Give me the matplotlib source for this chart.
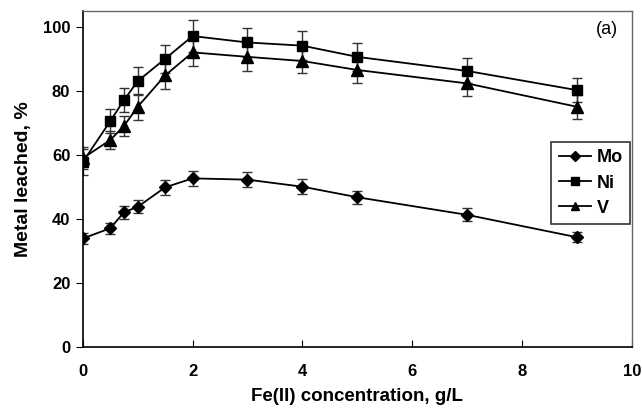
import matplotlib.pyplot as plt

plt.rcParams['font.family'] = ['Liberation Sans', 'DejaVu Sans']

fe = [0, 0.5, 0.75, 1, 1.5, 2, 3, 4, 5, 7, 9]

mo = [33.9, 37.1, 42.1, 43.8, 49.9, 52.7, 52.3, 50.1, 46.8, 41.3, 34.3]
mo_err = [1.8, 1.8, 2.0, 2.0, 2.3, 2.4, 2.4, 2.3, 2.1, 2.0, 1.6]

ni = [57.8, 70.6, 77.2, 83.1, 90.1, 97.2, 95.2, 94.2, 90.7, 86.3, 80.3]
ni_err = [4.0, 3.7, 3.9, 4.3, 4.3, 5.0, 4.6, 4.5, 4.4, 3.9, 3.7]

v = [59.0, 64.7, 69.1, 75.1, 84.9, 92.1, 90.7, 89.4, 86.6, 82.4, 75.1]
v_err = [3.5, 2.7, 3.2, 4.0, 4.4, 4.3, 4.4, 3.8, 4.2, 4.0, 3.7]

fig = plt.figure(figsize=(6.42, 4.12), dpi=100)
ax = fig.add_axes([0.129, 0.158, 0.855, 0.815])

common = dict(color='black', lw=1.3, ecolor='#333333', elinewidth=1.0,
              capsize=3.5, capthick=1.0)
c_mo = ax.errorbar(fe, mo, yerr=mo_err, marker='D', ms=6, label='Mo', **common)
c_ni = ax.errorbar(fe, ni, yerr=ni_err, marker='s', ms=7, label='Ni', **common)
c_v = ax.errorbar(fe, v, yerr=v_err, marker='^', ms=8, label='V', **common)

ax.set_xlim(0, 10)
ax.set_ylim(0, 105)
ax.set_xticks(range(0, 11, 2))
ax.set_yticks(range(0, 101, 20))
ax.tick_params(axis='x', direction='in', length=5, labelsize=12, pad=12)
ax.tick_params(axis='y', direction='out', length=5, labelsize=12, pad=4)
for lab in ax.get_xticklabels() + ax.get_yticklabels():
    lab.set_fontweight('bold')
for s in ['top', 'right']:
    ax.spines[s].set_color('#666666')
    ax.spines[s].set_linewidth(1.0)
for s in ['left', 'bottom']:
    ax.spines[s].set_linewidth(1.2)

ax.set_xlabel('Fe(II) concentration, g/L', fontsize=13.5, fontweight='bold', labelpad=7)
ax.set_ylabel('Metal leached, %', fontsize=14, fontweight='bold', labelpad=8)
ax.text(0.955, 0.945, '(a)', transform=ax.transAxes, fontsize=13, ha='center', va='center')

leg = ax.legend(handles=[c_mo[0], c_ni[0], c_v[0]], labels=['Mo', 'Ni', 'V'],
                loc='center right', bbox_to_anchor=(1.0, 0.488), frameon=True, fancybox=False,
                edgecolor='black', prop={'weight': 'bold', 'size': 13},
                handlelength=1.8, handletextpad=0.3, borderpad=0.4, labelspacing=0.45,
                markerscale=0.8, borderaxespad=0.1)
leg.get_frame().set_linewidth(1.2)

fig.savefig('out.png', dpi=100)
